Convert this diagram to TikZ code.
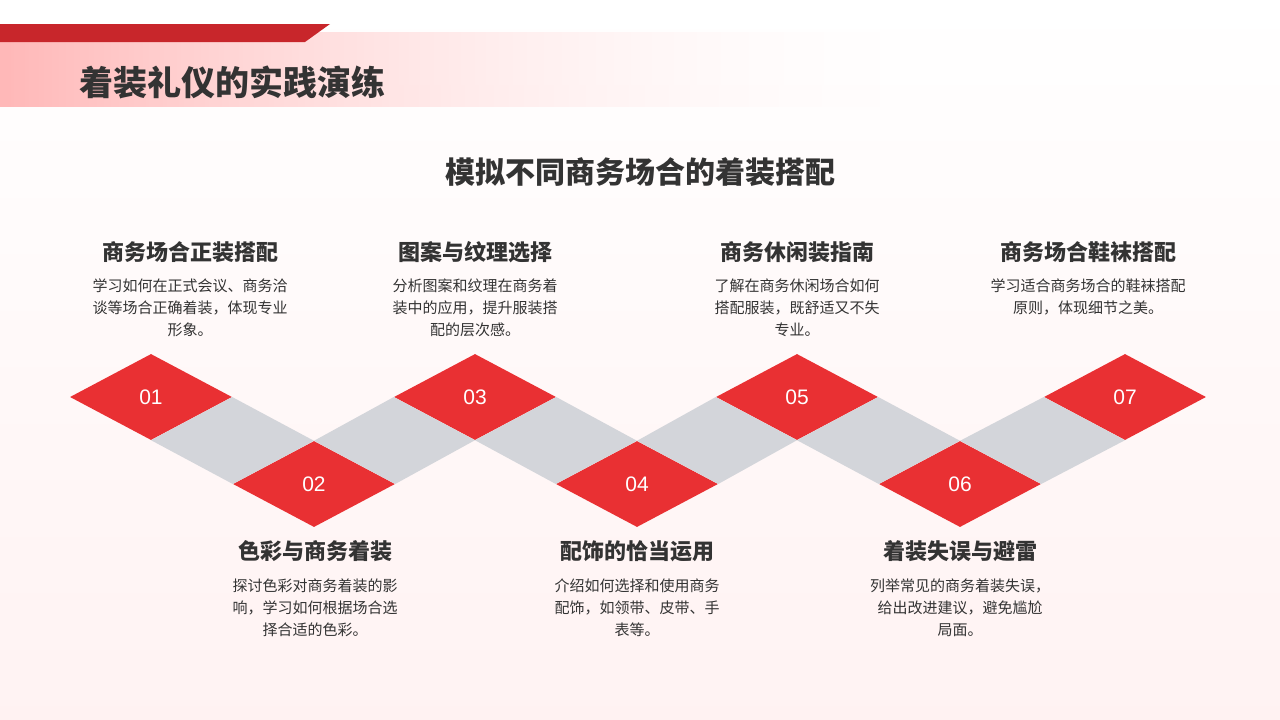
\documentclass[tikz,border=0pt]{standalone}
\usepackage{fontspec}
\setmainfont{Noto Sans CJK SC}
\newfontfamily\numfont{Liberation Sans}
\usetikzlibrary{shapes.geometric,fadings}
\definecolor{accent}{HTML}{E93033}
\definecolor{bar}{HTML}{C8262B}
\definecolor{band}{HTML}{D3D5DA}
\definecolor{ink}{HTML}{333333}
\tikzset{
  step box/.style={shape=diamond,fill=accent,minimum width=162pt,minimum height=86pt,inner sep=0pt,
    text=white,font=\numfont\fontsize{21}{21}\selectfont},
  head/.style={font=\bfseries\fontsize{22}{22}\selectfont,text=ink},
  body/.style={align=center,font=\fontsize{15}{22}\selectfont,text=ink}
}
\begin{document}
\begin{tikzpicture}[x=1pt,y=-1pt]
\useasboundingbox (0,0) rectangle (1280,720);
\shade[shading=axis,shading angle=45,top color=white,bottom color=red!5] (0,0) rectangle (1280,720);
% header
\shade[left color=red!28,right color=red!5,path fading=east] (0,33) rectangle (880,107);
\fill[bar] (0,24) -- (330,24) -- (305,42) -- (0,42) -- cycle;
\node[anchor=west,font=\bfseries\fontsize{34}{34}\selectfont,text=ink] (title) at (76,82) {着装礼仪的实践演练};
\node[font=\bfseries\fontsize{30}{30}\selectfont,text=ink] (sub) at (640,172) {模拟不同商务场合的着装搭配};

% diamonds
\node[step box] (d1) at (151,397) {01};
\node[step box] (d2) at (314,484) {02};
\node[step box] (d3) at (475,397) {03};
\node[step box] (d4) at (637,484) {04};
\node[step box] (d5) at (797,397) {05};
\node[step box] (d6) at (960,484) {06};
\node[step box] (d7) at (1125,397) {07};
\fill[band] (d1.east) -- (d2.north) -- (d2.west) -- (d1.south) -- cycle;
\fill[band] (d2.north) -- (d3.west) -- (d3.south) -- (d2.east) -- cycle;
\fill[band] (d3.east) -- (d4.north) -- (d4.west) -- (d3.south) -- cycle;
\fill[band] (d4.north) -- (d5.west) -- (d5.south) -- (d4.east) -- cycle;
\fill[band] (d5.east) -- (d6.north) -- (d6.west) -- (d5.south) -- cycle;
\fill[band] (d6.north) -- (d7.west) -- (d7.south) -- (d6.east) -- cycle;

% upper texts
\node[head] (h1) at (190,252) {商务场合正装搭配};
\node[body,anchor=north] (t1) at (190,275) {学习如何在正式会议、商务洽\\谈等场合正确着装，体现专业\\形象。};
\node[head] (h3) at (475,252) {图案与纹理选择};
\node[body,anchor=north] (t3) at (475,275) {分析图案和纹理在商务着\\装中的应用，提升服装搭\\配的层次感。};
\node[head] (h5) at (797,252) {商务休闲装指南};
\node[body,anchor=north] (t5) at (797,275) {了解在商务休闲场合如何\\搭配服装，既舒适又不失\\专业。};
\node[head] (h7) at (1088,252) {商务场合鞋袜搭配};
\node[body,anchor=north] (t7) at (1088,275) {学习适合商务场合的鞋袜搭配\\原则，体现细节之美。};

% lower texts
\node[head] (h2) at (315,551) {色彩与商务着装};
\node[body,anchor=north] (t2) at (315,575) {探讨色彩对商务着装的影\\响，学习如何根据场合选\\择合适的色彩。};
\node[head] (h4) at (637,551) {配饰的恰当运用};
\node[body,anchor=north] (t4) at (637,575) {介绍如何选择和使用商务\\配饰，如领带、皮带、手\\表等。};
\node[head] (h6) at (960,551) {着装失误与避雷};
\node[body,anchor=north] (t6) at (960,575) {列举常见的商务着装失误，\\给出改进建议，避免尴尬\\局面。};
\end{tikzpicture}
\end{document}
